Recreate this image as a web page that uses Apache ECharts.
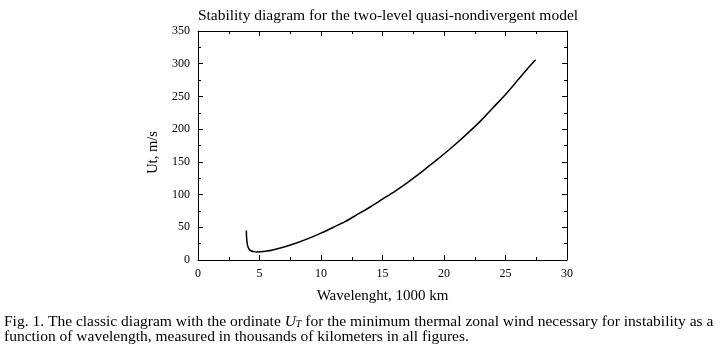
<!DOCTYPE html>
<html>
<head>
<meta charset="utf-8">
<script src="https://cdn.jsdelivr.net/npm/echarts@6/dist/echarts.min.js"></script>
<style>
  html, body { margin: 0; padding: 0; background: #fff; }
  #chart { width: 720px; height: 349px; }
</style>
</head>
<body>
<div id="chart"></div>
<script>
// wavelength (1000 km) and minimum thermal wind Ut (m/s)
var wavelength = [3.93, 3.94, 3.97, 4.02, 4.1, 4.2, 4.35, 4.55, 4.8, 5.1, 5.5, 6, 7, 8, 9, 10, 11, 12, 13, 14, 15, 16, 17, 18, 19, 20, 21, 22, 23, 24, 25, 26, 27, 27.45];
var utWind = [45, 38, 30, 23, 18.5, 15.5, 13.8, 12.8, 12.4, 12.6, 13.5, 15, 20, 26, 33, 41, 50, 59, 70, 81, 93, 105, 118, 132, 147, 162, 178, 195, 213, 233, 253, 275, 297, 306];

var points = wavelength.map(function (w, i) { return [w, utWind[i]]; });

var font = 'Liberation Serif';
var myChart = echarts.init(document.getElementById('chart'));

// same look for all four sides of the box, ticks pointing inward
function axisBase(show) {
  return {
    axisLine: { show: true, onZero: false, lineStyle: { color: '#000', width: 1 } },
    axisTick: { show: true, inside: true, length: 5, lineStyle: { color: '#000' } },
    minorTick: { show: true, splitNumber: 2, length: 3, lineStyle: { color: '#000' } },
    splitLine: { show: false },
    axisLabel: { show: show, color: '#000', fontFamily: font, fontSize: 12 }
  };
}

var option = {
  backgroundColor: '#fff',
  animation: false,
  title: {
    text: 'Stability diagram for the two-level quasi-nondivergent model',
    left: 383, top: 3, textAlign: 'center',
    textStyle: { fontFamily: font, fontSize: 15.5, fontWeight: 'normal', color: '#000' }
  },
  grid: { left: 198, right: 153, top: 31, bottom: 89 },
  xAxis: [
    Object.assign(axisBase(true), {
      type: 'value', min: 0, max: 30, interval: 5,
      name: 'Wavelenght, 1000 km', nameLocation: 'middle', nameGap: 29,
      nameTextStyle: { fontFamily: font, fontSize: 15, color: '#000' }
    }),
    Object.assign(axisBase(false), { type: 'value', position: 'top', min: 0, max: 30, interval: 5 })
  ],
  yAxis: [
    Object.assign(axisBase(true), {
      type: 'value', min: 0, max: 350, interval: 50,
      name: 'Ut, m/s', nameLocation: 'middle', nameGap: 36,
      nameTextStyle: { fontFamily: font, fontSize: 14.5, color: '#000', padding: [0, 14, 0, 0] }
    }),
    Object.assign(axisBase(false), { type: 'value', position: 'right', min: 0, max: 350, interval: 50 })
  ],
  series: [{
    type: 'line',
    data: points,
    showSymbol: false,
    smooth: 0.25,
    lineStyle: { color: '#000', width: 1.5 }
  }],
  graphic: [{
    type: 'text', left: 4, top: 314,
    style: {
      text: 'Fig. 1. The classic diagram with the ordinate {it|U}{sub|T} for the minimum thermal zonal wind necessary for instability as a\nfunction of wavelength, measured in thousands of kilometers in all figures.',
      fontFamily: font, fontSize: 15.5, fill: '#000', lineHeight: 15,
      rich: {
        it: { fontStyle: 'italic', fontFamily: font, fontSize: 15.5 },
        sub: { fontStyle: 'italic', fontFamily: font, fontSize: 10, verticalAlign: 'bottom', padding: [5, 0, 0, 0] }
      }
    }
  }]
};

myChart.setOption(option);
</script>
</body>
</html>
